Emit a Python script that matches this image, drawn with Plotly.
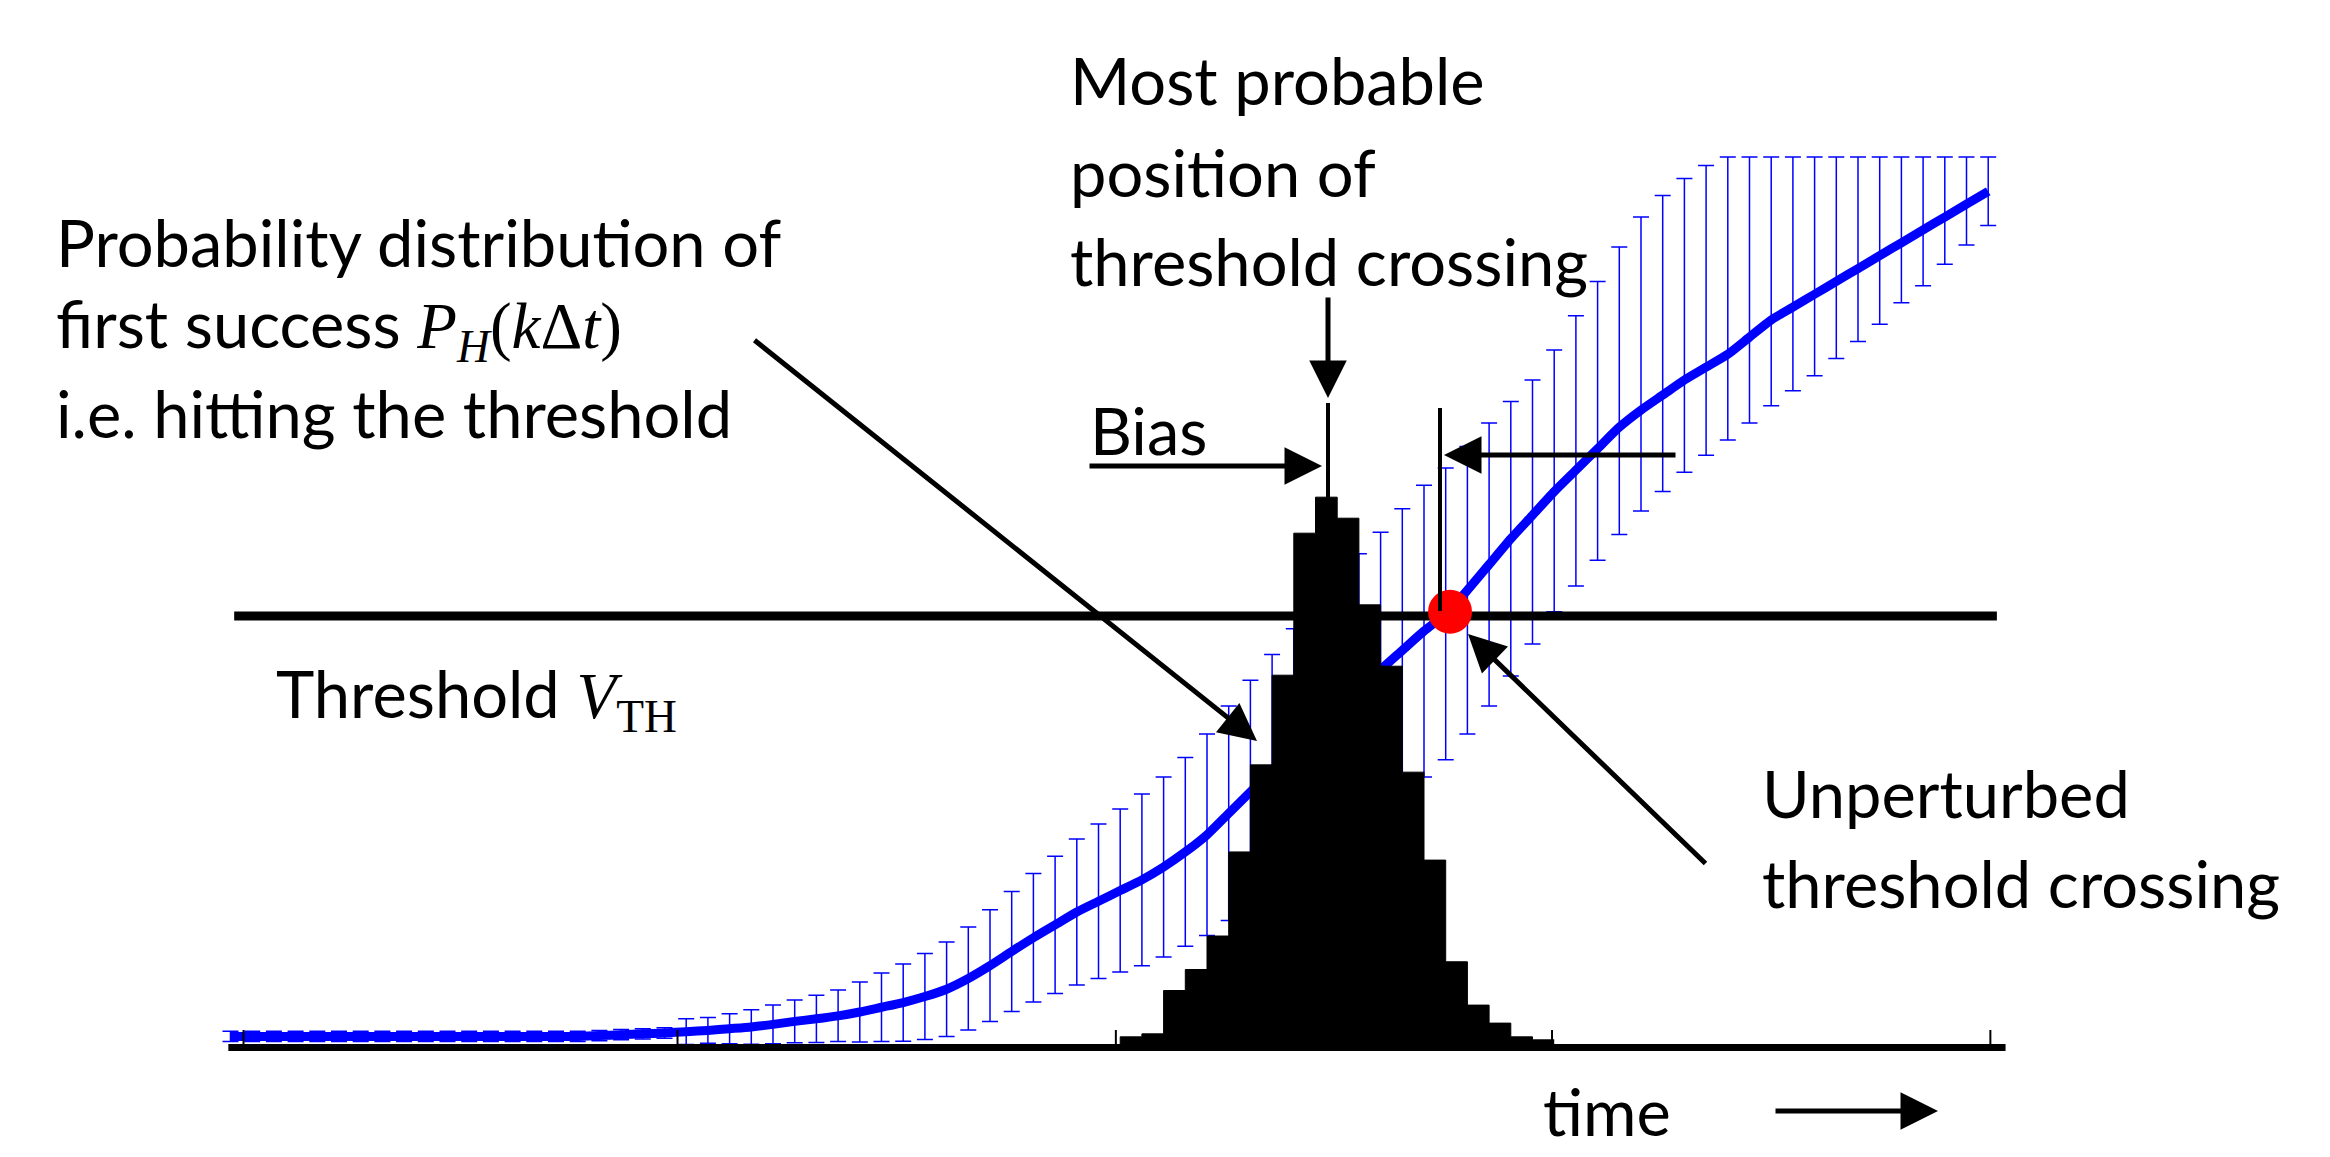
import plotly.graph_objects as go

# ---------------- data ----------------
steps = list(range(82))
mean_curve = [0.02]*17 + [0.022, 0.024, 0.026, 0.028, 0.031, 0.034, 0.038, 0.042, 0.048, 0.055,
              0.061, 0.068, 0.077, 0.088, 0.099, 0.113, 0.13, 0.155, 0.185, 0.218,
              0.25, 0.28, 0.31, 0.335, 0.36, 0.385, 0.415, 0.45, 0.49, 0.54,
              0.59, 0.64, 0.69, 0.74, 0.79, 0.835, 0.875, 0.92, 0.965, 1.005,
              1.06, 1.12, 1.18, 1.235, 1.29, 1.34, 1.39, 1.44, 1.48, 1.515,
              1.55, 1.58, 1.61, 1.65, 1.69, 1.72, 1.75, 1.78, 1.81, 1.84,
              1.87, 1.9, 1.93, 1.96, 1.99]
err_minus = [0.012]*21 + [0.03, 0.03, 0.035, 0.04, 0.045, 0.05, 0.055, 0.06, 0.07, 0.08,
             0.09, 0.1, 0.11, 0.12, 0.13, 0.14, 0.15, 0.16, 0.17, 0.18,
             0.19, 0.2, 0.21, 0.22, 0.235, 0.25, 0.26, 0.27, 0.28, 0.29,
             0.3, 0.31, 0.32, 0.33, 0.34, 0.34, 0.335, 0.33, 0.32, 0.3,
             0.28, 0.27, 0.26, 0.25, 0.235, 0.225, 0.215, 0.205, 0.2, 0.2,
             0.2, 0.195, 0.19, 0.18, 0.17, 0.16, 0.14, 0.13, 0.11, 0.095, 0.08]
err_plus = err_minus[:60] + [0.315, 0.33, 0.36, 0.39, 0.42, 0.45, 0.465, 0.47, 0.47, 0.46,
                             0.42, 0.38, 0.35, 0.32, 0.29, 0.26, 0.23, 0.2, 0.17, 0.14, 0.11, 0.08]

hist_steps = list(range(41, 61))
hist_prob = [0.019, 0.026, 0.127, 0.176, 0.254, 0.45, 0.653, 0.862, 1.193, 1.277,
             1.228, 1.026, 0.883, 0.636, 0.431, 0.194, 0.093, 0.051, 0.019, 0.012]

threshold = 1.0
crossing_step = 56.2
tick_steps = [0.6, 20.6, 40.8, 60.9, 81.1]

# ---------------- pixel helpers (layout only) ----------------
X0, DX, Y0, DY = 222.5, 21.7, 1037.0, 429.0
def px(x):
    return (x - X0) / DX
def py(y):
    return (Y0 - y) / DY

FONT = "Lato"
FS = 65
BLUE = "#0000ff"

fig = go.Figure()
fig.add_trace(go.Scatter(
    x=steps, y=mean_curve, mode="lines",
    line=dict(color=BLUE, width=9, shape="spline", smoothing=0.6),
    error_y=dict(type="data", symmetric=False, array=err_plus, arrayminus=err_minus,
                 color=BLUE, thickness=1.5, width=8),
    hoverinfo="skip", showlegend=False))
hx = [hist_steps[0]] + hist_steps + [hist_steps[-1] + 1]
hy = [0] + hist_prob + [hist_prob[-1]]
fig.add_trace(go.Scatter(
    x=hx, y=hy, mode="lines", line=dict(color="black", width=1, shape="hv"),
    fill="tozeroy", fillcolor="black", hoverinfo="skip", showlegend=False))
fig.add_trace(go.Scatter(
    x=[0.17, 81.4], y=[threshold, threshold], mode="lines",
    line=dict(color="black", width=9), showlegend=False))
fig.add_trace(go.Scatter(
    x=[crossing_step], y=[threshold + 0.01], mode="markers",
    marker=dict(color="red", size=44), showlegend=False))

shapes = [dict(type="line", xref="x", yref="y", x0=-0.1, x1=81.8, y0=-0.006, y1=-0.006,
               line=dict(color="black", width=7))]
for t in tick_steps:
    shapes.append(dict(type="line", xref="x", yref="y", x0=t, x1=t, y0=0, y1=0.035,
                       line=dict(color="black", width=2)))
shapes.append(dict(type="line", xref="x", yref="y", x0=px(1320), x1=px(1320), y0=py(395), y1=py(492),
                   line=dict(color="black", width=4)))
shapes.append(dict(type="line", xref="x", yref="y", x0=px(1432), x1=px(1432), y0=py(400), y1=py(603),
                   line=dict(color="black", width=4)))

def arrow(x1, y1, x2, y2):
    return dict(x=px(x2), y=py(y2), ax=px(x1), ay=py(y1), xref="x", yref="y",
                axref="x", ayref="y", text="", showarrow=True, arrowhead=2,
                arrowsize=1.5, arrowwidth=5, arrowcolor="black", standoff=0)

def label(x, y, text, anchor="left"):
    return dict(x=px(x), y=py(y), xref="x", yref="y", text=text, showarrow=False,
                xanchor=anchor, yanchor="middle", align="left",
                font=dict(family=FONT, size=FS, color="black"))

serif = "font-family:'Liberation Serif'"
annotations = [
    arrow(1320, 288, 1320, 390),
    arrow(1080, 458, 1314, 458),
    arrow(1669, 447, 1436, 447),
    arrow(745, 331, 1249, 733),
    arrow(1699, 857, 1460, 626),
    arrow(1766, 1103, 1930, 1103),
    label(1060, 72, "Most probable"),
    label(1060, 164, "position of"),
    label(1060, 253, "threshold crossing"),
    label(46, 234, "Probability distribution of"),
    label(46, 320, "first success <span style=\"" + serif + "\"><i>P<sub>H</sub></i>(<i>k</i>Δ<i>t</i>)</span>"),
    label(46, 405, "i.e. hitting the threshold"),
    label(1080, 422, "Bias"),
    label(266, 690, "Threshold <span style=\"" + serif + "\"><i>V</i><sub>TH</sub></span>"),
    label(1752, 785, "Unperturbed"),
    label(1752, 875, "threshold crossing"),
    label(1533, 1103, "time"),
]

fig.update_layout(
    width=2330, height=1157, margin=dict(l=0, r=0, t=0, b=0),
    paper_bgcolor="white", plot_bgcolor="white",
    xaxis=dict(range=[px(0), px(2330)], visible=False, fixedrange=True),
    yaxis=dict(range=[py(1157), py(0)], visible=False, fixedrange=True),
    shapes=shapes, annotations=annotations,
)
fig.write_html("out.html")
